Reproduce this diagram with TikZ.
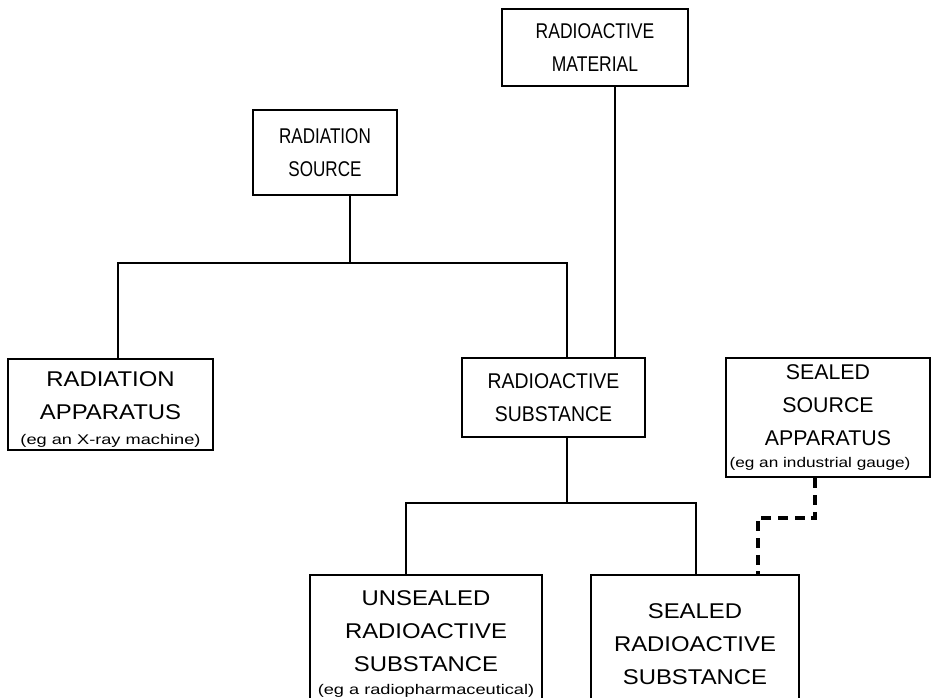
\documentclass[tikz,border=0pt]{standalone}
\usepackage{fontspec}
\setmainfont{Liberation Sans}

\tikzset{
  box/.style={draw, line width=2.2pt, align=center, inner sep=0pt,
    font=\fontsize{16}{24.75}\selectfont\addfontfeature{FakeStretch=#1}},
  box/.default=1,
  link/.style={line width=1.9pt},
  dashlink/.style={line width=2.6pt, dash pattern=on 7.5pt off 5pt},
}
\newcommand{\egtext}[2]{{\fontsize{10.5}{12}\selectfont\addfontfeature{FakeStretch=#1}#2}}

\begin{document}
\begin{tikzpicture}[x=0.75pt,y=-0.75pt,line join=miter]
            \useasboundingbox (0,0) rectangle (931,697);
            \clip (0,0) rectangle (931,697);

            % boxes
            \node[box=0.82, minimum width=139.5pt, minimum height=57.75pt] (material) at (595,47.5) {RADIOACTIVE\\MATERIAL};
            \node[box=0.8, minimum width=108pt, minimum height=63.75pt] (source) at (325,152.5) {RADIATION\\SOURCE};
            \node[box=1.12, minimum width=153.75pt, minimum height=68.25pt] (apparatus) at (110.5,404.5) {{}\\[-5.5pt]RADIATION\\APPARATUS\\[-6pt]\egtext{1.3}{(eg an X-ray machine)}};
            \node[box=0.91, minimum width=137.25pt, minimum height=59.25pt] (substance) at (553.5,397.5) {RADIOACTIVE\\SUBSTANCE};
            \node[box=1.0, minimum width=153pt, minimum height=89.25pt] (sealedapp) at (828,417.5) {SEALED\\SOURCE\\APPARATUS\\[-8pt]\egtext{1.23}{(eg an industrial gauge)}\hspace*{12pt}};
            \node[box=1.12, minimum width=174pt, minimum height=103.5pt] (unsealed) at (426,644) {UNSEALED\\RADIOACTIVE\\SUBSTANCE\\[-8pt]\egtext{1.3}{(eg a radiopharmaceutical)}};
            \node[box=1.12, minimum width=156pt, minimum height=103.5pt] (sealed) at (695,644) {SEALED\\RADIOACTIVE\\SUBSTANCE};

            % forks
            \coordinate (forkA) at (350,263);
            \coordinate (forkB) at (567,503);
            \coordinate (bend) at (815,518);

            \draw[link] (source.south -| forkA) -- (forkA);
            \draw[link] ([xshift=5.6pt]apparatus.north) |- (forkA) -| ([xshift=10.1pt]substance.north);
            \draw[link] ([xshift=15pt]material.south) -- ([xshift=15pt]material.south |- substance.north);

            \draw[link] (substance.south -| forkB) -- (forkB);
            \draw[link] ([xshift=-15pt]unsealed.north) |- (forkB) -| ([xshift=0.75pt]sealed.north);

            \draw[dashlink] (sealedapp.south -| bend) -- (bend) -| ([xshift=47.25pt]sealed.north);
\end{tikzpicture}
\end{document}
